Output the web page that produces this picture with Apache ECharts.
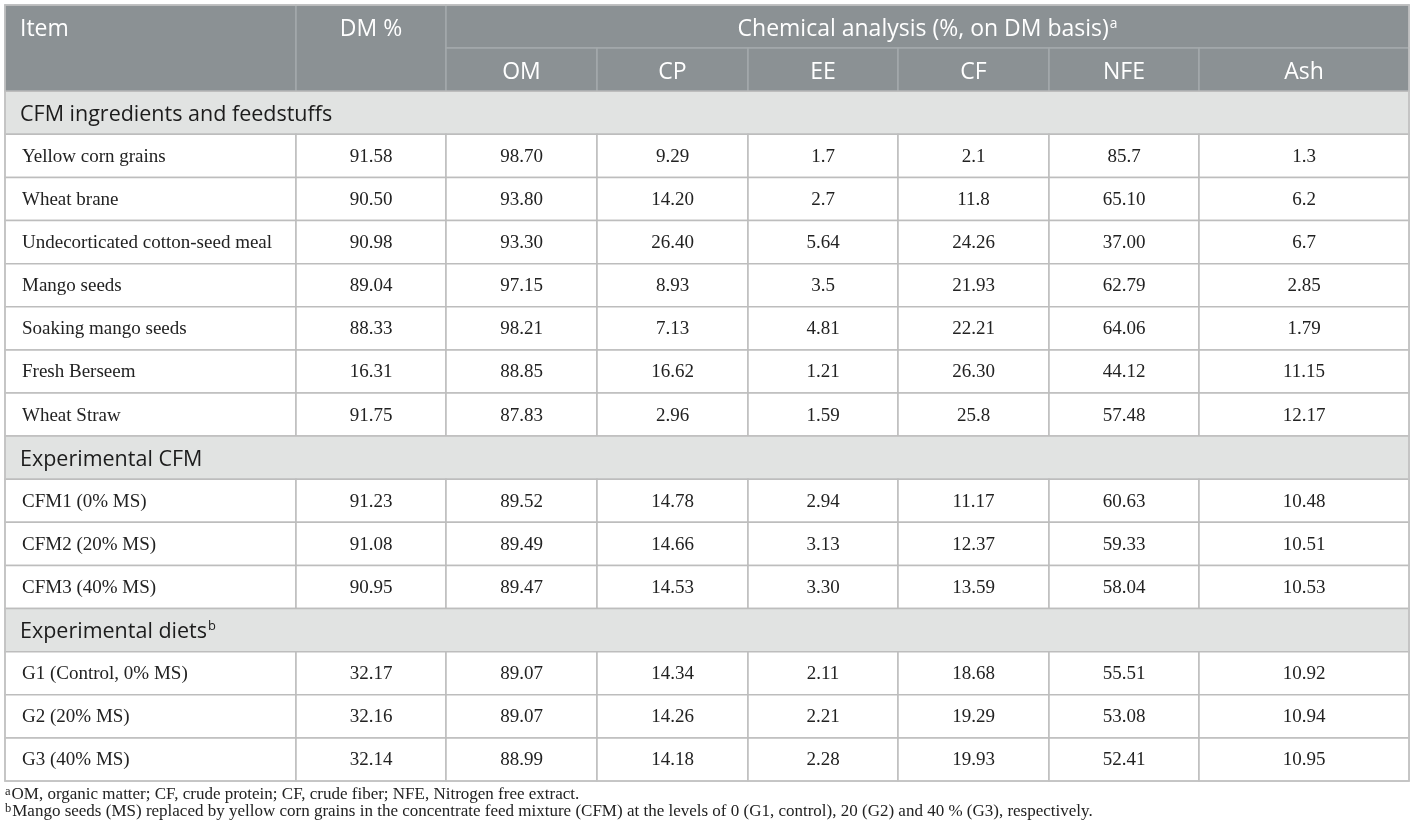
<!DOCTYPE html>
<html>
<head>
<meta charset="utf-8">
<title>Chemical analysis table</title>
<script src="https://cdn.jsdelivr.net/npm/echarts@6/dist/echarts.min.js"></script>
<style>
  html, body { margin: 0; padding: 0; background: #fff; }
  #main { width: 1414px; height: 839px; }
</style>
</head>
<body>
<div id="main"></div>
<script>
// table content
var headItem = 'Item';
var headDM = 'DM %';
var headAnalysis = 'Chemical analysis (%, on DM basis)';
var analysisCols = ['OM', 'CP', 'EE', 'CF', 'NFE', 'Ash'];

var sectionTitles = ['CFM ingredients and feedstuffs', 'Experimental CFM', 'Experimental diets'];
var sectionSup = ['', '', 'b'];
var sectionSizes = [7, 3, 3];

var items = ['Yellow corn grains', 'Wheat brane', 'Undecorticated cotton-seed meal', 'Mango seeds',
  'Soaking mango seeds', 'Fresh Berseem', 'Wheat Straw',
  'CFM1 (0% MS)', 'CFM2 (20% MS)', 'CFM3 (40% MS)',
  'G1 (Control, 0% MS)', 'G2 (20% MS)', 'G3 (40% MS)'];
var dm  = ['91.58', '90.50', '90.98', '89.04', '88.33', '16.31', '91.75', '91.23', '91.08', '90.95', '32.17', '32.16', '32.14'];
var om  = ['98.70', '93.80', '93.30', '97.15', '98.21', '88.85', '87.83', '89.52', '89.49', '89.47', '89.07', '89.07', '88.99'];
var cp  = ['9.29', '14.20', '26.40', '8.93', '7.13', '16.62', '2.96', '14.78', '14.66', '14.53', '14.34', '14.26', '14.18'];
var ee  = ['1.7', '2.7', '5.64', '3.5', '4.81', '1.21', '1.59', '2.94', '3.13', '3.30', '2.11', '2.21', '2.28'];
var cf  = ['2.1', '11.8', '24.26', '21.93', '22.21', '26.30', '25.8', '11.17', '12.37', '13.59', '18.68', '19.29', '19.93'];
var nfe = ['85.7', '65.10', '37.00', '62.79', '64.06', '44.12', '57.48', '60.63', '59.33', '58.04', '55.51', '53.08', '52.41'];
var ash = ['1.3', '6.2', '6.7', '2.85', '1.79', '11.15', '12.17', '10.48', '10.51', '10.53', '10.92', '10.94', '10.95'];

var footA = 'OM, organic matter; CF, crude protein; CF, crude fiber; NFE, Nitrogen free extract.';
var footB = 'Mango seeds (MS) replaced by yellow corn grains in the concentrate feed mixture (CFM) at the levels of 0 (G1, control), 20 (G2) and 40 % (G3), respectively.';

// layout
var colWidths = [291, 150, 151, 151, 150, 151, 150, 210];
var colEdges = [0];
colWidths.forEach(function (w) { colEdges.push(colEdges[colEdges.length - 1] + w); });
var tableWidth = colEdges[colEdges.length - 1];

var HEAD_BG = '#8b9194';
var HEAD_LINE = '#a4a9ac';
var SECTION_BG = '#e1e3e2';
var LINE = '#bdbdbd';
var SANS = '"Open Sans", "Noto Sans", sans-serif';
var SERIF = '"Liberation Serif", "DejaVu Serif", serif';

var valueCols = [dm, om, cp, ee, cf, nfe, ash];

// build cell list: [x0, x1, y0, y1] in table units, plus text info
var cells = [];
cells.push({ c0: 0, c1: 1, r0: 0, r1: 2, kind: 'head', text: headItem, align: 'left', textRow: 0.5 });
cells.push({ c0: 1, c1: 2, r0: 0, r1: 2, kind: 'head', text: headDM, align: 'center', textRow: 0.5 });
cells.push({ c0: 2, c1: 8, r0: 0, r1: 1, kind: 'head', text: headAnalysis + '{sup|a}', align: 'center' });
analysisCols.forEach(function (name, i) {
  cells.push({ c0: 2 + i, c1: 3 + i, r0: 1, r1: 2, kind: 'head', text: name, align: 'center' });
});

var row = 2;
var itemIdx = 0;
sectionTitles.forEach(function (title, s) {
  cells.push({ c0: 0, c1: 8, r0: row, r1: row + 1, kind: 'section',
    text: title + (sectionSup[s] ? '{sup|' + sectionSup[s] + '}' : ''), align: 'left' });
  row++;
  for (var k = 0; k < sectionSizes[s]; k++) {
    cells.push({ c0: 0, c1: 1, r0: row, r1: row + 1, kind: 'cell', text: items[itemIdx], align: 'left' });
    valueCols.forEach(function (col, j) {
      cells.push({ c0: 1 + j, c1: 2 + j, r0: row, r1: row + 1, kind: 'cell', text: col[itemIdx], align: 'center' });
    });
    row++;
    itemIdx++;
  }
});
var totalRows = row;

var chart = echarts.init(document.getElementById('main'));

function renderCell(params, api) {
  var c = cells[params.dataIndex];
  var p0 = api.coord([api.value(0), api.value(2)]);
  var p1 = api.coord([api.value(1), api.value(3)]);
  var x = p0[0], y = p0[1], w = p1[0] - p0[0], h = p1[1] - p0[1];

  var fill = '#fff', stroke = LINE, color = '#222', font = SERIF, size = 19, dy = 1;
  if (c.kind === 'head') { fill = HEAD_BG; stroke = HEAD_LINE; color = '#fff'; font = SANS; size = 23; dy = 3; }
  if (c.kind === 'section') { fill = SECTION_BG; color = '#1c1c1c'; font = SANS; size = 21.5; dy = 2; }

  var ty = y + h / 2;
  if (c.textRow !== undefined) {
    ty = api.coord([0, c.r0 + c.textRow])[1];
  }
  ty += dy;
  var tx = c.align === 'left' ? x + (c.kind === 'cell' ? 17 : 15) : x + w / 2;

  return {
    type: 'group',
    children: [
      {
        type: 'rect',
        shape: { x: x, y: y, width: w, height: h },
        style: { fill: fill, stroke: stroke, lineWidth: 1.5 }
      },
      {
        type: 'text',
        x: tx,
        y: ty,
        style: {
          text: c.text,
          fill: color,
          fontFamily: font,
          fontSize: size,
          align: c.align,
          verticalAlign: 'middle',
          rich: {
            sup: { fontSize: size * 0.6, fill: color, fontFamily: font, verticalAlign: 'top', padding: [0, 0, 11, 1] }
          }
        }
      }
    ]
  };
}

var footSup = { fontSize: 12.5, fill: '#222', fontFamily: SERIF, verticalAlign: 'top', padding: [0, 1, 7, 0] };

var option = {
  animation: false,
  grid: { left: 5, right: 5, top: 5, bottom: 58, show: true, borderColor: '#c3c3c3', borderWidth: 1.5, z: 5 },
  xAxis: { type: 'value', min: 0, max: tableWidth, show: false },
  yAxis: { type: 'value', min: 0, max: totalRows, inverse: true, show: false },
  series: [{
    type: 'custom',
    renderItem: renderCell,
    clip: false,
    silent: true,
    data: cells.map(function (c) { return [colEdges[c.c0], colEdges[c.c1], c.r0, c.r1]; })
  }],
  graphic: [
    {
      type: 'text', left: 5, top: 785,
      style: { text: '{sup|a}' + footA, fill: '#222', font: '17px ' + SERIF, rich: { sup: footSup } }
    },
    {
      type: 'text', left: 5, top: 802,
      style: { text: '{sup|b}' + footB, fill: '#222', font: '17px ' + SERIF, rich: { sup: footSup } }
    }
  ]
};

chart.setOption(option);
window.onresize = function () {
  chart.resize();
};
</script>
</body>
</html>
